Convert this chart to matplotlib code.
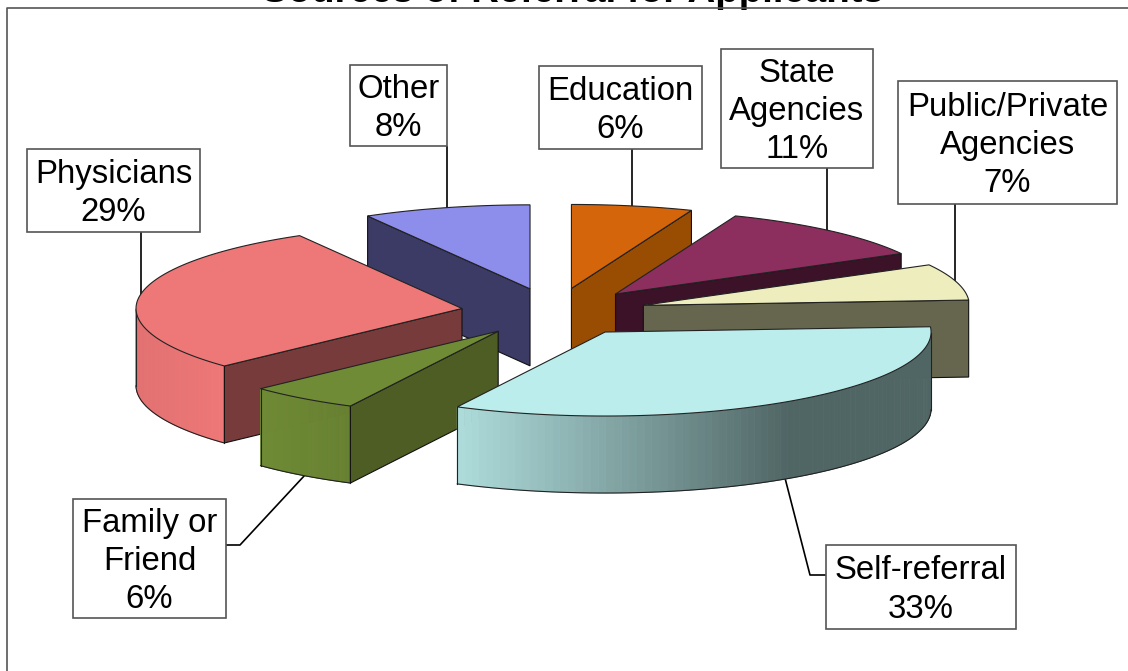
import numpy as np
import matplotlib
matplotlib.use('Agg')
import matplotlib.pyplot as plt
from matplotlib.patches import Polygon, Rectangle

plt.rcParams['font.family'] = ['Liberation Sans', 'DejaVu Sans']

titulo = 'Sources of Referral for Applicants'
categorias = ['Education', 'State\nAgencies', 'Public/Private\nAgencies', 'Self-referral',
              'Family or\nFriend', 'Physicians', 'Other']
valores = [6, 11, 7, 33.49, 5.51, 28.7, 8.3]
cor_topo = ['#D4650A', '#8C2E5E', '#EDEDBE', '#BBEDEC', '#6F8B35', '#EE7777', '#8D8DEC']
cor_corte = ['#994D03', '#3B1228', '#66664E', '#4F6567', '#4D5D24', '#783B3B', '#3C3B66']

# caixa dos rotulos: esquerda, topo, direita, base
caixas = [(539, 66, 702, 149), (721, 49, 873, 168), (898, 81, 1117, 204), (826, 545, 1016, 629),
          (73, 499, 226, 618), (27, 149, 200, 232), (350, 65, 447, 146)]
guias = [[(632, 149), (632, 208)], [(827, 168), (827, 232)], [(955, 204), (955, 285)],
         [(826, 575), (810, 575), (785, 478)], [(226, 545), (240, 545), (305, 475)],
         [(141, 232), (141, 296)], [(447, 146), (447, 208)]]

# geometria da pizza em pixels
cx, cy = 554, 312
raio_x, raio_y = 326, 84
explosao = 93
altura = 77


def sombra(ang):
    # claridade da parede curva conforme o angulo
    s = np.sin(ang)
    if s < -0.73:
        return 0.95 + 0.05 * (s + 1) / 0.27
    if s < -0.43:
        return 1.0 - 0.08 * (s + 0.73) / 0.30
    if s < 0.56:
        return 0.92 - 0.49 * (s + 0.43) / 0.99
    return 0.43


fig = plt.figure(figsize=(11.28, 6.71), dpi=100)
ax = fig.add_axes([0, 0, 1, 1])
ax.set_xlim(0, 1128)
ax.set_ylim(671, 0)
ax.axis('off')

# moldura do grafico
ax.plot([7, 7, 1128], [671, 8, 8], color='#555555', lw=1.2, zorder=1)
ax.text(573, 2, titulo, ha='center', va='baseline', fontsize=27.6, fontweight='bold', zorder=0)

for g in guias:
    ax.plot(*zip(*g), color='black', lw=1.2, zorder=2, solid_capstyle='butt')

fim = np.cumsum(valores) / sum(valores) * 2 * np.pi
ini = np.concatenate([[0], fim[:-1]])
meio = (ini + fim) / 2

z = 3
for i in np.argsort(-np.cos(meio)):
    a0, a1 = ini[i], fim[i]
    ox = cx + explosao * np.sin(meio[i])
    oy = cy - explosao * raio_y / raio_x * np.cos(meio[i])
    angs = np.linspace(a0, a1, 90)
    xs = ox + raio_x * np.sin(angs)
    ys = oy - raio_y * np.cos(angs)

    # parede curva, em tiras
    base = np.array(matplotlib.colors.to_rgb(cor_topo[i]))
    vis = np.cos(angs) <= 0
    if vis.any():
        for j in range(len(angs) - 1):
            if vis[j] and vis[j + 1]:
                cor = np.clip(base * sombra((angs[j] + angs[j + 1]) / 2), 0, 1)
                q = [(xs[j], ys[j]), (xs[j + 1], ys[j + 1]), (xs[j + 1], ys[j + 1] + altura), (xs[j], ys[j] + altura)]
                ax.add_patch(Polygon(q, closed=True, fc=cor, ec=cor, lw=0.6, zorder=z))
        xv, yv = xs[vis], ys[vis]
        ax.plot(xv, yv + altura, color='#222222', lw=0.8, zorder=z + 0.1)
        ax.plot([xv[0], xv[0]], [yv[0], yv[0] + altura], color='#222222', lw=0.8, zorder=z + 0.1)
        ax.plot([xv[-1], xv[-1]], [yv[-1], yv[-1] + altura], color='#222222', lw=0.8, zorder=z + 0.1)

    # faces de corte visiveis
    for ang, visivel in ((a0, np.sin(a0) < -1e-6), (a1, np.sin(a1) > 1e-6)):
        if visivel:
            px, py = ox + raio_x * np.sin(ang), oy - raio_y * np.cos(ang)
            q = [(ox, oy), (px, py), (px, py + altura), (ox, oy + altura)]
            ax.add_patch(Polygon(q, closed=True, fc=cor_corte[i], ec='#111111', lw=0.8, zorder=z + 0.2))

    # topo
    topo = [(ox, oy)] + list(zip(xs, ys))
    ax.add_patch(Polygon(topo, closed=True, fc=cor_topo[i], ec='#222222', lw=0.8, zorder=z + 0.3))
    z += 1

for i, (cat, v) in enumerate(zip(categorias, valores)):
    e, t, d, b = caixas[i]
    ax.add_patch(Rectangle((e, t), d - e, b - t, fc='white', ec='#555555', lw=1.2, zorder=20))
    ax.text((e + d) / 2, (t + b) / 2 + 3, f'{cat}\n{v:.0f}%', ha='center', va='center',
            fontsize=23.7, linespacing=1.3, color='black', zorder=21)

plt.savefig('out.png', dpi=100)
